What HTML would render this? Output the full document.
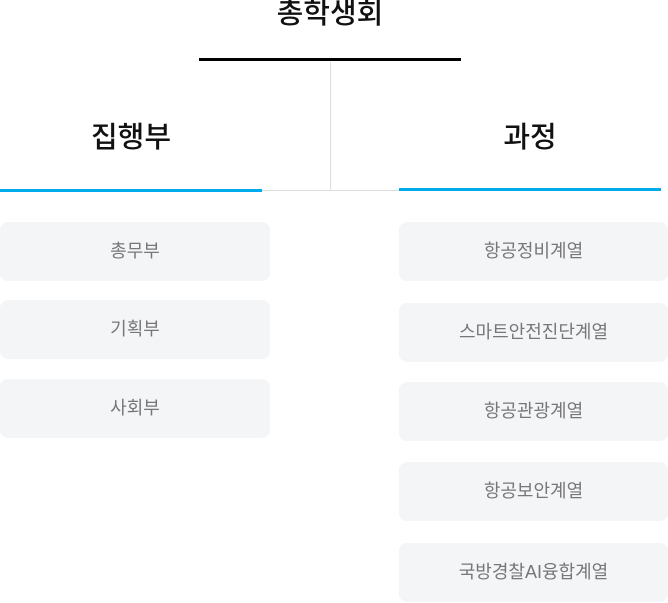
<!DOCTYPE html>
<html><head><meta charset="utf-8"><style>
body{margin:0;width:668px;height:603px;position:relative;background:#fff;font-family:"Liberation Sans","Noto Sans CJK KR",sans-serif;overflow:hidden}
div{position:absolute}
.t{text-align:center;color:#111;font-size:29px;font-weight:500}
.b{background:#f4f5f7;border-radius:8px;height:59px;line-height:59px;text-align:center;color:#777;font-size:18px}
.l{left:0;width:262px}.r{left:399px;width:262px}
</style></head><body>
<div class="t" style="left:130px;width:400px;top:-4px;line-height:36px">총학생회</div>
<div style="left:199px;top:58px;width:262px;height:3px;background:#000"></div>
<div style="left:330px;top:62px;width:1px;height:128px;background:#ddd"></div>
<div style="left:205px;top:190px;width:194px;height:1px;background:#ddd"></div>
<div class="t" style="left:0;width:262px;top:120px;line-height:36px">집행부</div>
<div class="t" style="left:399px;width:262px;top:120px;line-height:36px">과정</div>
<div style="left:0;top:189px;width:262px;height:3px;background:#00aaeb"></div>
<div style="left:399px;top:188px;width:262px;height:3px;background:#00aaeb"></div>
<div class="b l" style="top:222px;width:270px;padding-right:0">총무부</div>
<div class="b l" style="top:300px;width:270px">기획부</div>
<div class="b l" style="top:379px;width:270px">사회부</div>
<div class="b r" style="top:222px;width:269px">항공정비계열</div>
<div class="b r" style="top:303px;width:269px">스마트안전진단계열</div>
<div class="b r" style="top:382px;width:269px">항공관광계열</div>
<div class="b r" style="top:462px;width:269px">항공보안계열</div>
<div class="b r" style="top:543px;width:269px">국방경찰AI융합계열</div>
</body></html>
